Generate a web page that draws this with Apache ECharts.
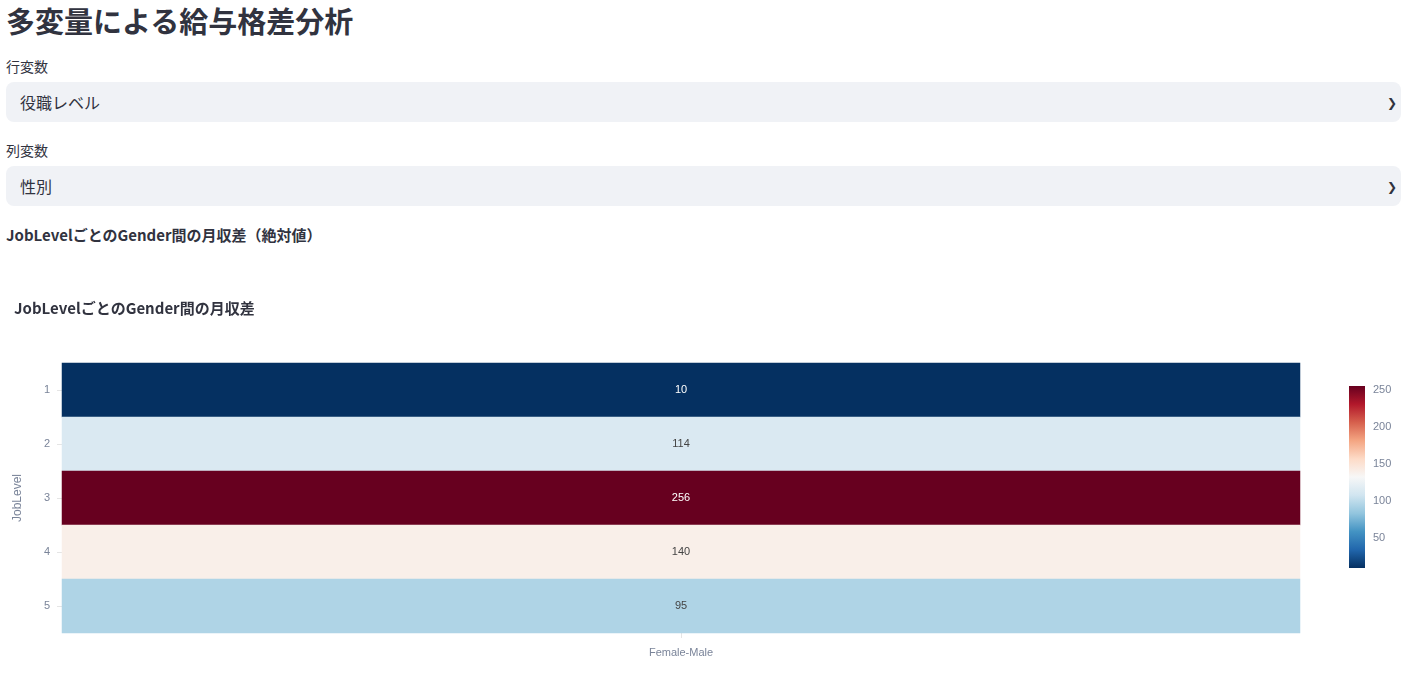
<!DOCTYPE html>
<html><head><meta charset="utf-8">
<script src="https://cdn.jsdelivr.net/npm/echarts@6/dist/echarts.min.js"></script>
<style>
body{margin:0;width:1401px;height:684px;overflow:hidden;font-family:"Noto Sans CJK JP","Noto Sans",sans-serif;color:#31333f;background:#fff;position:relative}
h1{position:absolute;left:6px;top:0;margin:0;font-size:29px;font-weight:700;line-height:40px}
.lbl{position:absolute;left:6px;font-size:14px}
.sel{position:absolute;left:6px;width:1395px;height:40px;background:#f0f2f6;border-radius:8px;font-size:16px;line-height:40px;box-sizing:border-box;padding-left:14px}
.sel span{position:absolute;right:4px;top:0;font-size:12px}
h3{position:absolute;left:6px;top:224px;margin:0;font-size:15px;font-weight:700}
#c{position:absolute;left:0;top:280px;width:1401px;height:404px}
</style></head><body>
<h1>多変量による給与格差分析</h1>
<div class="lbl" style="top:56px">行変数</div>
<div class="sel" style="top:82px">役職レベル<span>&#10095;</span></div>
<div class="lbl" style="top:140px">列変数</div>
<div class="sel" style="top:166px">性別<span>&#10095;</span></div>
<h3>JobLevelごとのGender間の月収差（絶対値）</h3>
<div id="c"></div>
<script>
const rows=["1","2","3","4","5"];
const cols=["Female-Male"];
const values=[10,114,256,140,95];
const cbTicks=[50,100,150,200,250];
const data=values.map((v,i)=>[0,i,v]);
const ch=echarts.init(document.getElementById('c'));
const gray='#7a8499';
ch.setOption({
 animation:false,
 title:{text:'JobLevelごとのGender間の月収差',left:9,top:16,textStyle:{fontSize:15,fontWeight:'bold',color:'#31333f',fontFamily:'Noto Sans CJK JP'}},
 grid:[{left:62,right:101,top:83,bottom:51},{left:1349,width:16,top:106,height:182}],
 xAxis:[{type:'category',data:cols,gridIndex:0,axisLine:{show:false},axisTick:{show:true,lineStyle:{color:'#e5e5e5'},alignWithLabel:true},axisLabel:{color:gray,fontSize:11,margin:14}},
        {type:'value',gridIndex:1,show:false}],
 yAxis:[{type:'category',data:rows,inverse:true,gridIndex:0,name:'JobLevel',nameLocation:'middle',nameGap:38,nameTextStyle:{color:gray,fontSize:12},axisLine:{show:false},axisTick:{show:true,lineStyle:{color:'#e5e5e5'},alignWithLabel:true},axisLabel:{color:gray,fontSize:11,margin:12}},
        {type:'value',gridIndex:1,min:10,max:256,position:'right',axisLine:{show:false},splitLine:{show:false},axisTick:{show:false},axisLabel:{customValues:cbTicks,color:gray,fontSize:11,margin:8}}],
 visualMap:{min:10,max:256,show:false,seriesIndex:0,inRange:{color:['#053061','#2166ac','#4393c3','#92c5de','#d1e5f0','#f7f7f7','#fddbc7','#f4a582','#d6604d','#b2182b','#67001f']}},
 graphic:[{type:'rect',left:1349,top:106,shape:{width:16,height:182},style:{fill:new echarts.graphic.LinearGradient(0,1,0,0,['#053061','#2166ac','#4393c3','#92c5de','#d1e5f0','#f7f7f7','#fddbc7','#f4a582','#d6604d','#b2182b','#67001f'].map((c,i)=>({offset:i/10,color:c})))}}],
 series:[{type:'heatmap',xAxisIndex:0,yAxisIndex:0,data:data,
   label:{show:true,fontSize:11,formatter:p=>p.value[2],color:'#444'},
   itemStyle:{borderWidth:0}}]
});
const opt=ch.getOption();
ch.setOption({series:[{data:values.map((v,i)=>({value:[0,i,v],label:{color:(v<40||v>220)?'#fff':'#444'}}))}]});
</script>
</body></html>
